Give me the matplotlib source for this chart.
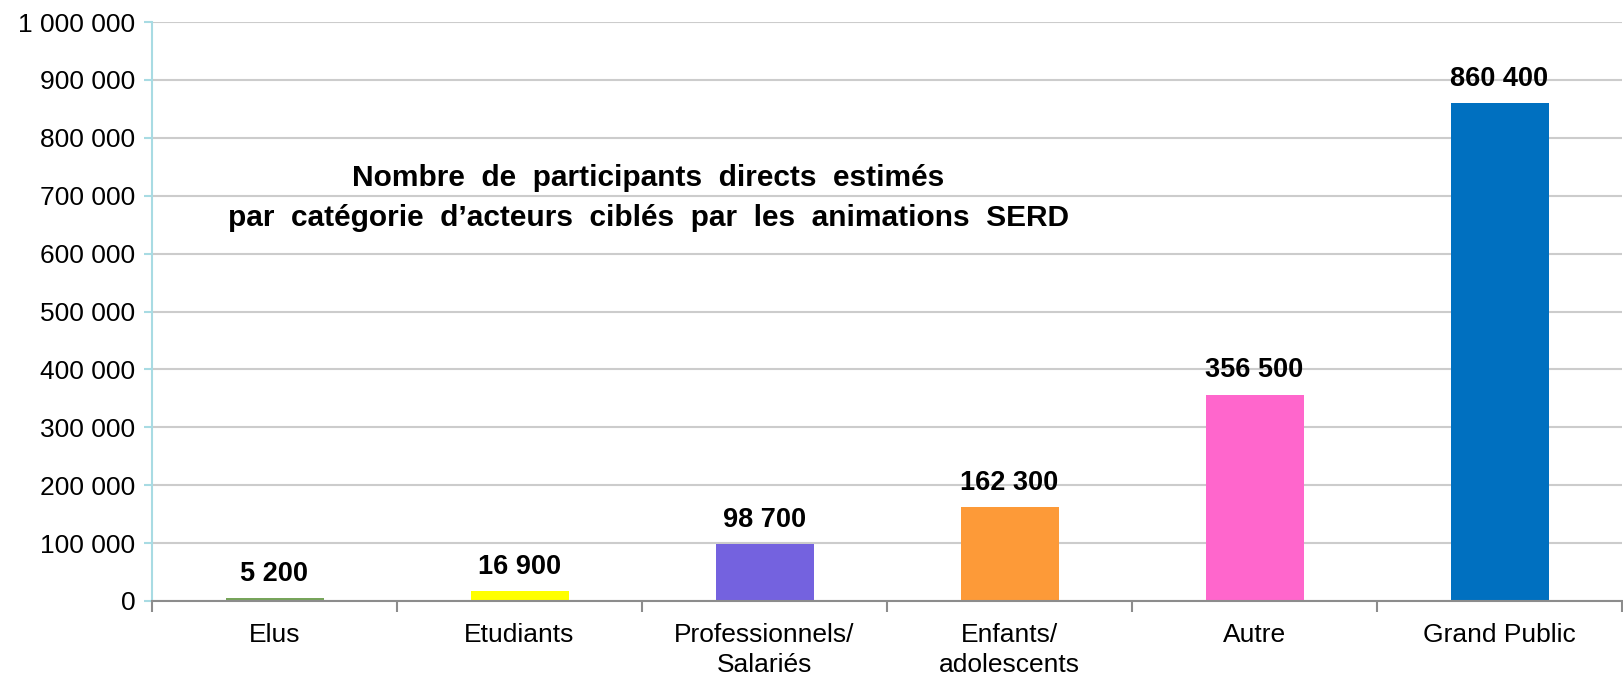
import matplotlib.pyplot as plt
from matplotlib.ticker import FuncFormatter, FixedLocator

categories = ['Elus', 'Etudiants', 'Professionnels/\nSalariés', 'Enfants/\nadolescents', 'Autre', 'Grand Public']
values = [5200, 16900, 98700, 162300, 356500, 860400]
colors = ['#77a55a', '#ffff00', '#7462df', '#fd9a38', '#ff66cc', '#0070c0']
title = 'Nombre  de  participants  directs  estimés\npar  catégorie  d\u2019acteurs  ciblés  par  les  animations  SERD'

plt.rcParams['font.family'] = ['Liberation Sans', 'DejaVu Sans']

def fmt(v, pos=None):
    return f'{int(v):,}'.replace(',', ' ')

fig = plt.figure(figsize=(16.23, 6.76), dpi=100)
ax = fig.add_axes([152 / 1623, 75 / 676, 1470 / 1623, 579 / 676])

x = range(len(categories))
ax.bar(x, values, width=0.4, color=colors, zorder=3)

# value labels above bars
for i, v in enumerate(values):
    ax.annotate(fmt(v), (i, v), xytext=(0, 8), textcoords='offset points',
                ha='center', va='bottom', fontsize=19.5, fontweight='bold')

ax.set_xlim(-0.5, len(categories) - 0.5)
ax.set_ylim(0, 1000000)
ax.set_yticks(range(0, 1000001, 100000))
ax.yaxis.set_major_formatter(FuncFormatter(fmt))
ax.grid(axis='y', color='#cccccc', linewidth=1.5, zorder=0)

ax.set_xticks(list(x))
ax.set_xticklabels(categories, fontsize=19, linespacing=1.3)
ax.tick_params(axis='x', length=0, pad=16)
ax.xaxis.set_minor_locator(FixedLocator([i - 0.5 for i in range(len(categories) + 1)]))
ax.tick_params(axis='x', which='minor', length=8, width=1.5, color='#8c8c8c', direction='out')
ax.tick_params(axis='y', labelsize=19, length=6, width=1.5, color='#a8dbe3', pad=6)

for s in ['top', 'right']:
    ax.spines[s].set_visible(False)
ax.spines['left'].set_color('#a8dbe3')
ax.spines['left'].set_linewidth(1.5)
ax.spines['bottom'].set_color('#8c8c8c')
ax.spines['bottom'].set_linewidth(1.5)
ax.spines['bottom'].set_zorder(4)

fig.text(648 / 1623, 1 - 198 / 676, title, ha='center', va='center',
         fontsize=21.5, fontweight='bold', linespacing=1.55)

fig.savefig('out.png', dpi=100)
